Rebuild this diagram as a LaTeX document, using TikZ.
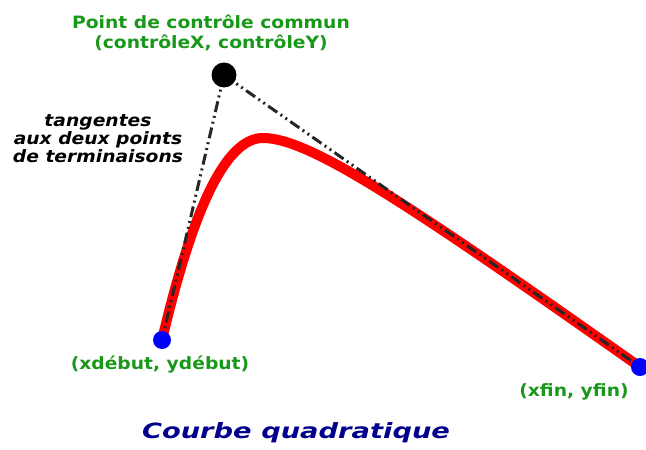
\documentclass[tikz,border=0pt]{standalone}
\usepackage{fontspec}
\setmainfont{DejaVu Sans}
\newfontfamily\lblfont[FakeStretch=1.1]{DejaVu Sans}
\newfontfamily\titlefont[FakeStretch=1.3]{DejaVu Sans}
\usetikzlibrary{positioning}
\definecolor{labelgreen}{RGB}{24,152,24}
\definecolor{titleblue}{RGB}{0,0,140}
\definecolor{curvered}{RGB}{255,0,0}
\definecolor{endblue}{RGB}{0,0,255}

\begin{document}
\begin{tikzpicture}[
  x=1pt, y=-1pt,
  font=\lblfont\fontsize{17}{20}\selectfont\bfseries,
  ptdot/.style={circle, fill=#1, inner sep=0pt},
  greenlbl/.style={text=labelgreen, align=center, inner sep=0pt},
  tangent/.style={draw=black!85, line width=3pt, dash pattern=on 11pt off 4pt on 2pt off 4pt on 2pt off 4pt},
  curve/.style={draw=curvered, line width=10pt, line cap=round}
]
\useasboundingbox (0,0) rectangle (646,450);

% points of the curve
\coordinate (ctrl) at (224,75);
\coordinate (start) at (162,340);
\coordinate (peak) at (263,138);
\coordinate (finish) at (640,367);

% red quadratic curve
\draw[curve] (start) .. controls (195,200) and (228,138) .. (peak)
  .. controls (310,138) and (410,205) .. (finish);

% tangents
\draw[tangent] (ctrl) -- (start);
\draw[tangent] (ctrl) -- (finish);

% dots
\node[ptdot=black, minimum size=25pt] (ctrldot) at (ctrl) {};
\node[ptdot=endblue, minimum size=18pt] (startdot) at (start) {};
\node[ptdot=endblue, minimum size=18pt] (finishdot) at (finish) {};

% labels
\node[greenlbl] (ctrllbl) at (211,33) {Point de contrôle commun\\(contrôleX, contrôleY)};
\node[align=center, inner sep=0pt, font=\lblfont\fontsize{17}{18}\selectfont\bfseries\itshape] (tanlbl) at (98,139)
  {tangentes\\aux deux points\\de terminaisons};
\node[greenlbl] (startlbl) at (160,365) {(xdébut, ydébut)};
\node[greenlbl] (finishlbl) at (574,392) {(xfin, yfin)};
\node[text=titleblue, inner sep=0pt, font=\titlefont\fontsize{21}{24}\selectfont\bfseries\itshape] (title) at (296,433) {Courbe quadratique};
\end{tikzpicture}
\end{document}
